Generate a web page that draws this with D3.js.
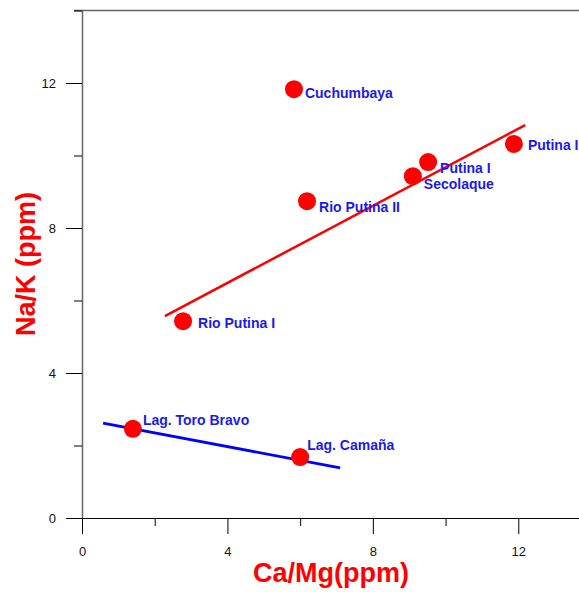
<!DOCTYPE html>
<html>
<head>
<meta charset="utf-8">
<script src="https://cdn.jsdelivr.net/npm/d3@7"></script>
<style>
    body { margin: 0; background: #fff; }
    svg { display: block; }
</style>
</head>
<body>
<svg class="chart"></svg>
<script>
// sample names and measured ratios
const sites = ["Cuchumbaya", "Putina I", "Putina I", "Secolaque", "Rio Putina II",
               "Rio Putina I", "Lag. Toro Bravo", "Lag. Camaña"];
const caMg = [5.83, 11.88, 9.52, 9.10, 6.19, 2.78, 1.40, 6.00];
const naK  = [11.83, 10.32, 9.82, 9.43, 8.74, 5.43, 2.46, 1.68];

// trend lines (end points)
const redTrend  = [[2.28, 5.57], [12.19, 10.84]];
const blueTrend = [[0.58, 2.62], [7.10, 1.38]];

const majorTicks = [0, 4, 8, 12];
const minorTicks = [2, 6, 10, 14];

// label nudges in px
const labelOffsets = [[11, 4], [14, 1], [12, 6], [11, 8], [12, 6], [15, 2], [10, -9], [7, -12]];

const width = 579, height = 592;
const svg = d3.select(".chart").attr("width", width).attr("height", height);

const x = d3.scaleLinear().domain([0, 14]).range([82, 591]);
const y = d3.scaleLinear().domain([0, 14]).range([518, 10.5]);

const font = "'Liberation Sans', Arial, Helvetica, sans-serif";

// top border
svg.append("line")
    .attr("x1", 74).attr("x2", width)
    .attr("y1", y(14)).attr("y2", y(14))
    .attr("stroke", "#666").attr("stroke-width", 1.5);

// Y axis
const yAxis = svg.append("g")
    .attr("transform", `translate(${x(0)},0)`)
    .call(d3.axisLeft(y).tickValues(majorTicks).tickSize(16).tickSizeOuter(0).tickPadding(10));
svg.append("g")
    .attr("transform", `translate(${x(0)},0)`)
    .call(d3.axisLeft(y).tickValues(minorTicks).tickSize(8).tickFormat("").tickSizeOuter(0))
    .select(".domain").remove();
yAxis.select(".domain").attr("stroke", "#666").attr("stroke-width", 1.5);

// X axis
const xAxis = svg.append("g")
    .attr("transform", `translate(0,${y(0)})`)
    .call(d3.axisBottom(x).tickValues(majorTicks).tickSize(16).tickSizeOuter(0).tickPadding(13));
svg.append("g")
    .attr("transform", `translate(0,${y(0)})`)
    .call(d3.axisBottom(x).tickValues(minorTicks).tickSize(8).tickFormat("").tickSizeOuter(0))
    .select(".domain").remove();

svg.selectAll(".tick text")
    .style("font-size", "13px")
    .style("font-family", font)
    .attr("fill", "#111");

// trend lines
const line = d3.line().x(d => x(d[0])).y(d => y(d[1]));
svg.append("path").datum(redTrend)
    .attr("d", line).attr("stroke", "#ff0000").attr("stroke-width", 2.5).attr("fill", "none");
svg.append("path").datum(blueTrend)
    .attr("d", line).attr("stroke", "#0000ff").attr("stroke-width", 2.8).attr("fill", "none");

// points
const data = sites.map((s, i) => ({ name: s, x: caMg[i], y: naK[i], off: labelOffsets[i] }));

svg.selectAll("circle.pt")
    .data(data)
    .enter()
    .append("circle")
        .attr("class", "pt")
        .attr("cx", d => x(d.x))
        .attr("cy", d => y(d.y))
        .attr("r", 9)
        .attr("fill", "#ff0000");

svg.selectAll("text.lbl")
    .data(data)
    .enter()
    .append("text")
        .attr("class", "lbl")
        .attr("x", d => x(d.x) + d.off[0])
        .attr("y", d => y(d.y) + d.off[1])
        .attr("dy", "0.35em")
        .style("font-size", "14px")
        .style("font-family", font)
        .style("font-weight", "bold")
        .attr("fill", "#1a1aee")
        .text(d => d.name);

// axis titles
svg.append("text")
    .attr("x", 331)
    .attr("y", 582)
    .attr("text-anchor", "middle")
    .style("font-size", "27px")
    .style("font-family", font)
    .style("font-weight", "bold")
    .attr("fill", "#ff0000")
    .text("Ca/Mg(ppm)");

svg.append("text")
    .attr("transform", "translate(35,264)rotate(-90)")
    .attr("text-anchor", "middle")
    .style("font-size", "27px")
    .style("font-family", font)
    .style("font-weight", "bold")
    .attr("fill", "#ff0000")
    .text("Na/K (ppm)");
</script>
</body>
</html>
